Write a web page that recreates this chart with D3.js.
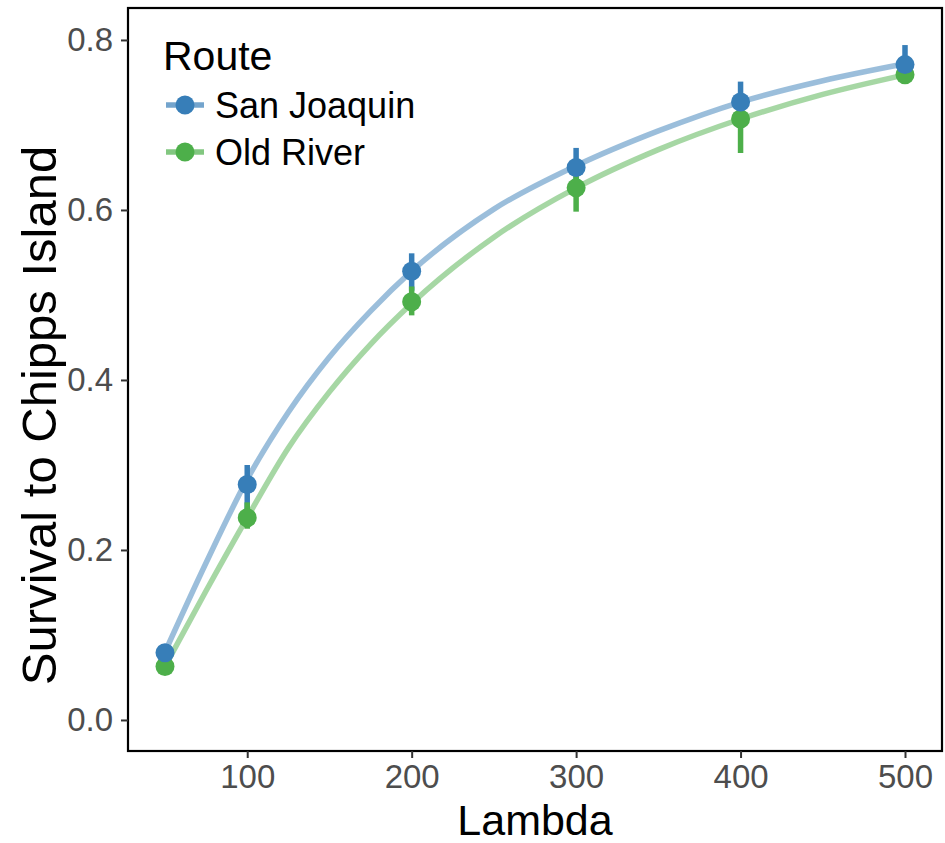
<!DOCTYPE html>
<html>
<head>
<meta charset="utf-8">
<script src="https://cdn.jsdelivr.net/npm/d3@7"></script>
<style>
  html, body { margin: 0; padding: 0; background: #fff; }
  text { font-family: "Liberation Sans", Arial, sans-serif; }
</style>
</head>
<body>
<svg id="chart" width="945" height="843"></svg>
<script>
// ---- data ----
const routes = ["San Joaquin", "Old River"];
const lambdaPoints = [50, 100, 200, 300, 400, 500];
const sjMean = [0.079, 0.277, 0.528, 0.650, 0.727, 0.771];
const sjLow  = [0.070, 0.241, 0.505, 0.625, 0.705, 0.750];
const sjHigh = [0.088, 0.300, 0.549, 0.673, 0.751, 0.794];
const orMean = [0.063, 0.238, 0.492, 0.626, 0.707, 0.759];
const orLow  = [0.055, 0.225, 0.476, 0.598, 0.667, 0.752];
const orHigh = [0.071, 0.256, 0.510, 0.648, 0.727, 0.768];
// fitted curve
const curveLambda = [50, 75, 100, 125, 150, 175, 200, 250, 300, 350, 400, 450, 500];
const sjCurve = [0.080, 0.185, 0.283, 0.362, 0.427, 0.481, 0.528, 0.601, 0.652, 0.693, 0.727, 0.752, 0.772];
const orCurve = [0.063, 0.152, 0.238, 0.320, 0.386, 0.442, 0.490, 0.568, 0.626, 0.671, 0.707, 0.736, 0.759];
const xTicks = [100, 200, 300, 400, 500];
const yTicks = [0.0, 0.2, 0.4, 0.6, 0.8];
const colors = ["#377eb8", "#4daf4a"];

const svg = d3.select("#chart");
const L = 128, R = 942, T = 8, B = 751;
const x = d3.scaleLinear().domain([27.5, 522.5]).range([L, R]);
const y = d3.scaleLinear().domain([-0.0365, 0.8376]).range([B, T]);

const series = [
  {name: routes[0], color: colors[0], mean: sjMean, lo: sjLow, hi: sjHigh, curve: sjCurve},
  {name: routes[1], color: colors[1], mean: orMean, lo: orLow, hi: orHigh, curve: orCurve}
];

// curves
const line = d3.line().x(d => x(d[0])).y(d => y(d[1])).curve(d3.curveMonotoneX);
series.forEach(s => {
  svg.append("path")
    .datum(curveLambda.map((l, i) => [l, s.curve[i]]))
    .attr("d", line)
    .attr("fill", "none")
    .attr("stroke", s.color)
    .attr("stroke-opacity", 0.5)
    .attr("stroke-width", 5.5);
});

// error bars
series.forEach(s => {
  svg.append("g").selectAll("line")
    .data(lambdaPoints.map((l, i) => ({l, lo: s.lo[i], hi: s.hi[i]})))
    .join("line")
    .attr("x1", d => x(d.l)).attr("x2", d => x(d.l))
    .attr("y1", d => y(d.lo)).attr("y2", d => y(d.hi))
    .attr("stroke", s.color)
    .attr("stroke-width", 5.5);
});

// points (green first, blue on top)
[series[1], series[0]].forEach(s => {
  svg.append("g").selectAll("circle")
    .data(lambdaPoints.map((l, i) => ({l, v: s.mean[i]})))
    .join("circle")
    .attr("cx", d => x(d.l)).attr("cy", d => y(d.v))
    .attr("r", 9.5)
    .attr("fill", s.color);
});

// panel border
svg.append("rect")
  .attr("x", L).attr("y", T).attr("width", R - L).attr("height", B - T)
  .attr("fill", "none").attr("stroke", "#000").attr("stroke-width", 2.2);

// axes
const xAxis = svg.append("g").attr("transform", `translate(0,${B})`)
  .call(d3.axisBottom(x).tickValues(xTicks).tickSize(7).tickPadding(7).tickFormat(d3.format("d")));
const yAxis = svg.append("g").attr("transform", `translate(${L},0)`)
  .call(d3.axisLeft(y).tickValues(yTicks).tickSize(7).tickPadding(8).tickFormat(d3.format(".1f")));
[xAxis, yAxis].forEach(a => {
  a.select(".domain").remove();
  a.selectAll(".tick line").attr("stroke", "#333").attr("stroke-width", 2);
  a.selectAll(".tick text").attr("fill", "#4d4d4d")
    .style("font-size", "33px")
    .style("font-family", "'Liberation Sans', Arial, sans-serif");
});

// axis titles
svg.append("text")
  .attr("x", (L + R) / 2).attr("y", 835)
  .attr("text-anchor", "middle")
  .style("font-size", "43px").attr("fill", "#000")
  .text("Lambda");
svg.append("text")
  .attr("transform", `translate(56,${(T + B) / 2 + 36}) rotate(-90)`)
  .attr("text-anchor", "middle")
  .style("font-size", "49px").attr("fill", "#000")
  .text("Survival to Chipps Island");

// legend
const lg = svg.append("g");
lg.append("text").attr("x", 163).attr("y", 70)
  .style("font-size", "41px").attr("fill", "#000").text("Route");
series.forEach((s, i) => {
  const cy = 105 + i * 47;
  lg.append("line").attr("x1", 166).attr("x2", 204).attr("y1", cy).attr("y2", cy)
    .attr("stroke", s.color).attr("stroke-width", 5.5).attr("stroke-opacity", 0.7);
  lg.append("circle").attr("cx", 185).attr("cy", cy).attr("r", 9.5).attr("fill", s.color);
  lg.append("text").attr("x", 215).attr("y", cy + 13)
    .style("font-size", "36px").attr("fill", "#000").text(s.name);
});
</script>
</body>
</html>
